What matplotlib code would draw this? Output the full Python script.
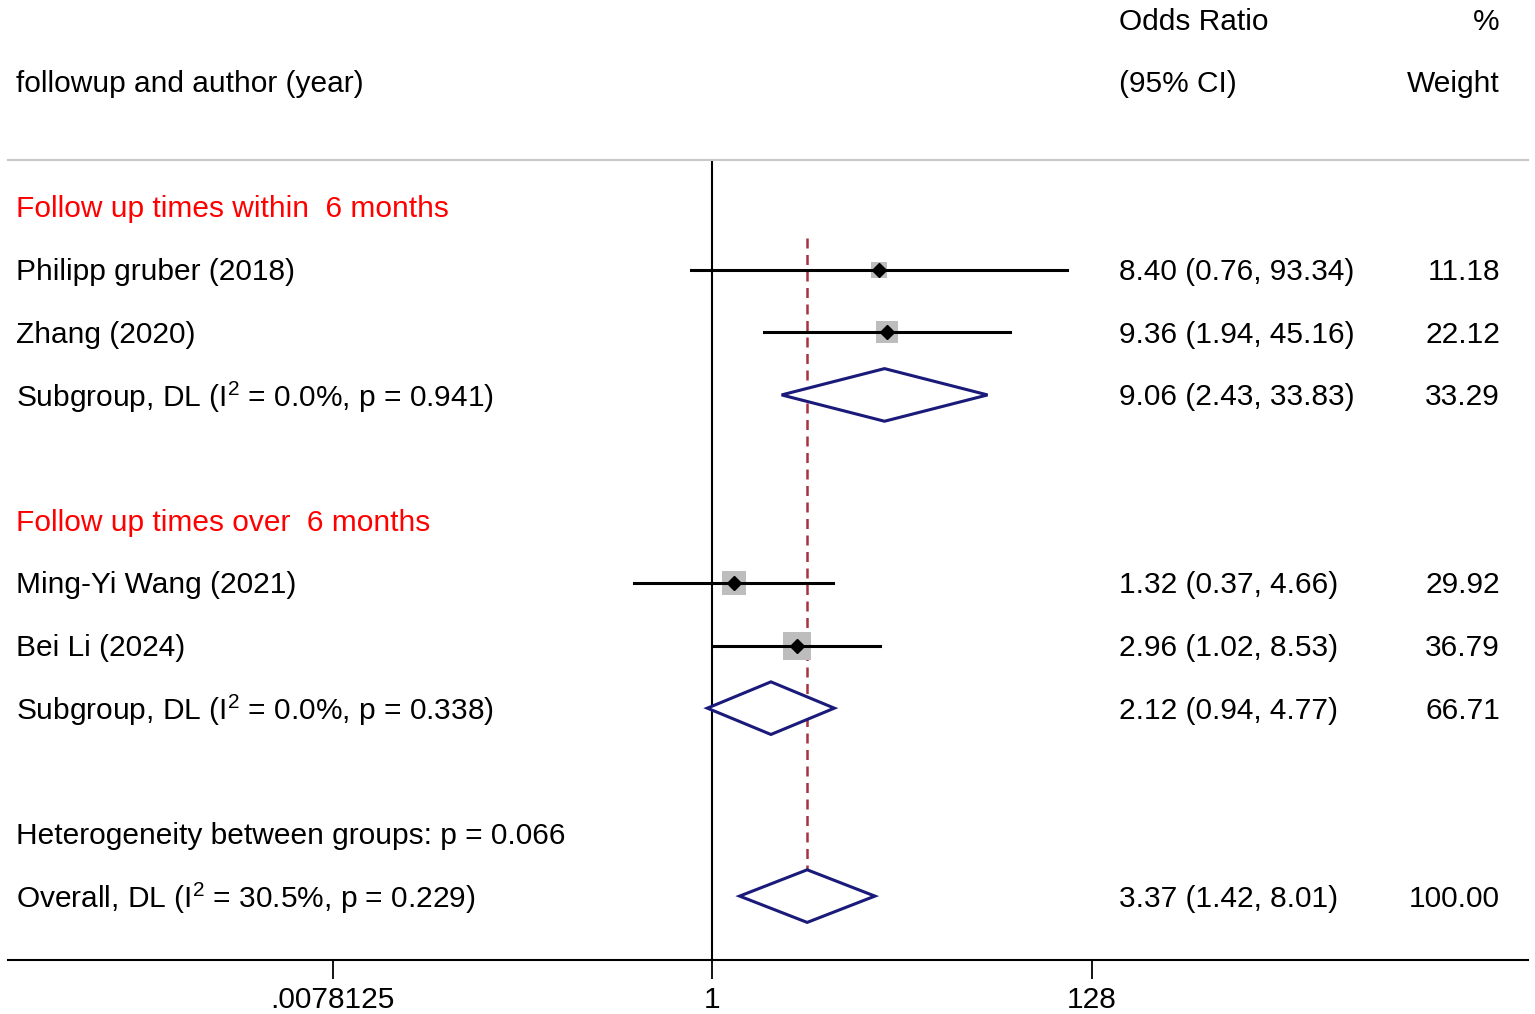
import matplotlib
matplotlib.use("Agg")
import matplotlib.pyplot as plt
import numpy as np

plt.rcParams['font.family'] = ['Liberation Sans', 'DejaVu Sans']
plt.rcParams['mathtext.fontset'] = 'custom'
plt.rcParams['mathtext.rm'] = 'Liberation Sans'

# study data
studies = ["Philipp gruber (2018)", "Zhang (2020)", "Ming-Yi Wang (2021)", "Bei Li (2024)"]
study_or = [8.40, 9.36, 1.32, 2.96]
study_lo = [0.76, 1.94, 0.37, 1.02]
study_hi = [93.34, 45.16, 4.66, 8.53]
study_w = [11.18, 22.12, 29.92, 36.79]
study_rows = [1, 2, 6, 7]

# pooled estimates (two subgroups + overall)
pooled_labels = [r"Subgroup, DL (I$\mathregular{^2}$ = 0.0%, p = 0.941)",
                 r"Subgroup, DL (I$\mathregular{^2}$ = 0.0%, p = 0.338)",
                 r"Overall, DL (I$\mathregular{^2}$ = 30.5%, p = 0.229)"]
pooled_or = [9.06, 2.12, 3.37]
pooled_lo = [2.43, 0.94, 1.42]
pooled_hi = [33.83, 4.77, 8.01]
pooled_w = [33.29, 66.71, 100.00]
pooled_rows = [3, 8, 11]

group_titles = ["Follow up times within  6 months", "Follow up times over  6 months"]
group_rows = [0, 5]
het_text = "Heterogeneity between groups: p = 0.066"
het_row = 10

xticks = [0.0078125, 1, 128]
xtick_labels = [".0078125", "1", "128"]

fs = 21.5
dy = 0.04  # nudge text down a little
W, H = 1535, 1014
fig = plt.figure(figsize=(W / 100, H / 100), dpi=100)
ax = fig.add_axes([8 / W, 1 - 960 / H, (1528 - 8) / W, (960 - 160) / H])

ax.set_xscale('log', base=2)
ax.set_xlim(2 ** -12.99, 2 ** 15.05)
ax.set_ylim(12.02, -0.75)

for s in ['left', 'right']:
    ax.spines[s].set_visible(False)
ax.spines['top'].set_color('#c8c8c8')
ax.spines['top'].set_linewidth(1.5)
ax.spines['bottom'].set_linewidth(1.5)
ax.set_yticks([])
ax.set_xticks(xticks)
ax.set_xticklabels(xtick_labels, fontsize=fs)
ax.minorticks_off()
ax.tick_params(axis='x', length=14, width=1.3, pad=5)

# null line
ax.axvline(1, color='black', lw=1.5)
# overall line
ax.plot([pooled_or[2]] * 2, [0.5, pooled_rows[2] + 0.42], color='#a83240',
        lw=1.8, ls=(0, (4, 2.6)))

# studies
for r, o, l, h, w in zip(study_rows, study_or, study_lo, study_hi, study_w):
    ax.scatter([o], [r], s=10.5 * w, marker='s', color='#bdbdbd', zorder=2, linewidths=0)
    ax.plot([l, h], [r, r], color='black', lw=2.2, zorder=3)
    ax.plot([o], [r], marker='D', color='black', ms=7, zorder=4)

# diamonds
for r, o, l, h in zip(pooled_rows, pooled_or, pooled_lo, pooled_hi):
    ax.fill([l, o, h, o, l], [r, r - 0.42, r, r + 0.42, r], facecolor='white',
            edgecolor='#1a1a7a', lw=2.2, zorder=3)

# text columns
trans = ax.get_yaxis_transform()
x_lab = (16 - 8) / (1528 - 8)
x_or = (1119 - 8) / (1528 - 8)
x_w = (1500 - 8) / (1528 - 8)


def put(x, r, s, **kw):
    ax.text(x, r + dy, s, transform=trans, fontsize=fs, va='center', clip_on=False, **kw)


put(x_lab, -2, "followup and author (year)")
put(x_or, -3, "Odds Ratio")
put(x_or, -2, "(95% CI)")
put(x_w, -3, "%", ha='right')
put(x_w, -2, "Weight", ha='right')

for t, r in zip(group_titles, group_rows):
    put(x_lab, r, t, color='red')

for name, r, o, l, h, w in zip(studies, study_rows, study_or, study_lo, study_hi, study_w):
    put(x_lab, r, name)
    put(x_or, r, f"{o:.2f} ({l:.2f}, {h:.2f})")
    put(x_w, r, f"{w:.2f}", ha='right')

for name, r, o, l, h, w in zip(pooled_labels, pooled_rows, pooled_or, pooled_lo, pooled_hi, pooled_w):
    put(x_lab, r, name)
    put(x_or, r, f"{o:.2f} ({l:.2f}, {h:.2f})")
    put(x_w, r, f"{w:.2f}", ha='right')

put(x_lab, het_row, het_text)

fig.savefig("out.png", dpi=100)
